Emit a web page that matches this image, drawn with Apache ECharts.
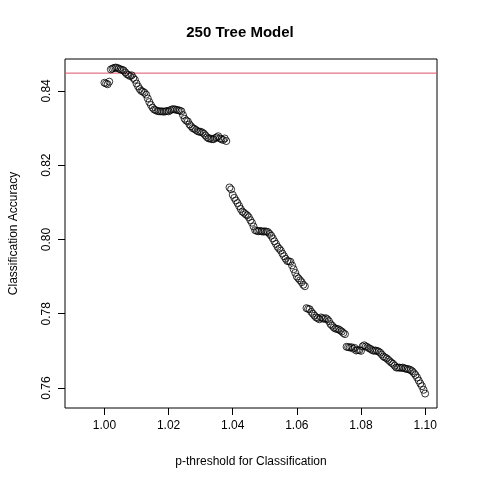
<!DOCTYPE html>
<html><head><meta charset="utf-8">
<script src="https://cdn.jsdelivr.net/npm/echarts@6/dist/echarts.min.js"></script>
<style>html,body{margin:0;background:#fff}#c{width:480px;height:480px}</style>
</head><body><div id="c"></div>
<script>
const thresholds = [1.000,1.001,1.002,1.003,1.004,1.005,1.006,1.007,1.008,1.009,1.010,1.011,1.012,1.013,1.014,1.015,1.016,1.017,1.018,1.019,1.020,1.021,1.022,1.023,1.024,1.025,1.026,1.027,1.028,1.029,1.030,1.031,1.032,1.033,1.034,1.035,1.036,1.037,1.038,1.039,1.040,1.041,1.042,1.043,1.044,1.045,1.046,1.047,1.048,1.049,1.050,1.051,1.052,1.053,1.054,1.055,1.056,1.057,1.058,1.059,1.060,1.061,1.062,1.063,1.064,1.065,1.066,1.067,1.068,1.069,1.070,1.071,1.072,1.073,1.074,1.075,1.076,1.077,1.078,1.079,1.080,1.081,1.082,1.083,1.084,1.085,1.086,1.087,1.088,1.089,1.090,1.091,1.092,1.093,1.094,1.095,1.096,1.097,1.098,1.099,1.100];
const accuracy = [.8422,.8418,.8458,.8462,.8462,.8458,.8455,.8445,.8440,.8435,.8420,.8405,.8398,.8390,.8370,.8355,.8348,.8345,.8345,.8345,.8345,.8350,.8350,.8348,.8345,.8325,.8318,.8305,.8298,.8292,.8290,.8285,.8275,.8272,.8270,.8275,.8272,.8268,.8265,.8140,.8120,.8105,.8090,.8075,.8068,.8060,.8045,.8025,.8022,.8022,.8022,.8020,.8010,.7995,.7980,.7970,.7955,.7942,.7940,.7920,.7900,.7890,.7878,.7815,.7812,.7800,.7790,.7785,.7788,.7788,.7780,.7768,.7760,.7758,.7752,.7745,.7710,.7710,.7708,.7702,.7700,.7715,.7710,.7705,.7700,.7700,.7695,.7685,.7680,.7672,.7665,.7655,.7655,.7655,.7652,.7650,.7645,.7635,.7620,.7605,.7585];
const thresholdsHalf = [1.0005,1.0015,1.0025,1.0035,1.0045,1.0055,1.0065,1.0075,1.0085,1.0095,1.0105,1.0115,1.0125,1.0135,1.0145,1.0155,1.0165,1.0175,1.0185,1.0195,1.0205,1.0215,1.0225,1.0235,1.0245,1.0255,1.0265,1.0275,1.0285,1.0295,1.0305,1.0315,1.0325,1.0335,1.0345,1.0355,1.0365,1.0375,1.0395,1.0405,1.0415,1.0425,1.0435,1.0445,1.0455,1.0465,1.0475,1.0485,1.0495,1.0505,1.0515,1.0525,1.0535,1.0545,1.0555,1.0565,1.0575,1.0585,1.0595,1.0605,1.0615,1.0625,1.0635,1.0645,1.0655,1.0665,1.0675,1.0685,1.0695,1.0705,1.0715,1.0725,1.0735,1.0745,1.0755,1.0765,1.0775,1.0785,1.0795,1.0805,1.0815,1.0825,1.0835,1.0845,1.0855,1.0865,1.0875,1.0885,1.0895,1.0905,1.0915,1.0925,1.0935,1.0945,1.0955,1.0965,1.0975,1.0985,1.0995];
const accuracyHalf = [.8420,.8425,.8460,.8463,.8460,.8457,.8450,.8443,.8442,.8430,.8412,.8400,.8395,.8380,.8362,.8350,.8346,.8345,.8344,.8346,.8348,.8351,.8349,.8347,.8335,.8320,.8310,.8300,.8295,.8290,.8288,.8280,.8272,.8270,.8273,.8278,.8270,.8272,.8135,.8112,.8098,.8082,.8072,.8065,.8052,.8035,.8023,.8023,.8021,.8021,.8015,.8003,.7988,.7975,.7962,.7948,.7941,.7930,.7910,.7895,.7885,.7874,.7813,.7805,.7795,.7788,.7790,.7786,.7785,.7772,.7763,.7759,.7755,.7748,.7711,.7709,.7706,.7701,.7702,.7712,.7712,.7707,.7702,.7701,.7698,.7690,.7682,.7676,.7668,.7660,.7655,.7654,.7653,.7651,.7648,.7640,.7628,.7612,.7595];
const xTicks = [1.00,1.02,1.04,1.06,1.08,1.10];
const yTicks = [0.76,0.78,0.80,0.82,0.84];
const refLine = 0.8448;
const pts = thresholds.map((x,i)=>[x,accuracy[i]]).concat(thresholdsHalf.map((x,i)=>[x,accuracyHalf[i]]));
const ch = echarts.init(document.getElementById('c'));
const font = 'Liberation Sans, Arial, sans-serif';
ch.setOption({
  animation:false,
  title:{text:'250 Tree Model',left:'center',top:20,textStyle:{fontFamily:font,fontSize:15,fontWeight:'bold',color:'#000'}},
  grid:{left:60,right:43,top:59,bottom:72,show:true,borderColor:'#000',borderWidth:1,backgroundColor:'transparent'},
  xAxis:{type:'value',min:0.9877,max:1.1037,name:'p-threshold for Classification',nameLocation:'middle',nameGap:48,
    nameTextStyle:{fontFamily:font,fontSize:12,color:'#000'},
    axisLine:{show:false},splitLine:{show:false},
    axisTick:{show:true,length:7,inside:false,customValues:xTicks,lineStyle:{color:'#000'}},
    axisLabel:{customValues:xTicks,margin:12,fontFamily:font,fontSize:12,color:'#000',formatter:v=>v.toFixed(2)}},
  yAxis:{type:'value',min:0.75461,max:0.8486,name:'Classification Accuracy',nameLocation:'middle',nameGap:45,
    nameTextStyle:{fontFamily:font,fontSize:12,color:'#000'},
    axisLine:{show:false},splitLine:{show:false},
    axisTick:{show:true,length:7,customValues:yTicks,lineStyle:{color:'#000'}},
    axisLabel:{customValues:yTicks,rotate:90,margin:12,fontFamily:font,fontSize:12,color:'#000',formatter:v=>v.toFixed(2)}},
  series:[
    {type:'line',data:[[0.9877,refLine],[1.1037,refLine]],symbol:'none',silent:true,lineStyle:{color:'#df536b',width:1},z:1},
    {type:'scatter',data:pts,symbol:'circle',symbolSize:7,z:2,
    itemStyle:{color:'transparent',borderColor:'#000',borderWidth:1}}]
});
</script></body></html>
